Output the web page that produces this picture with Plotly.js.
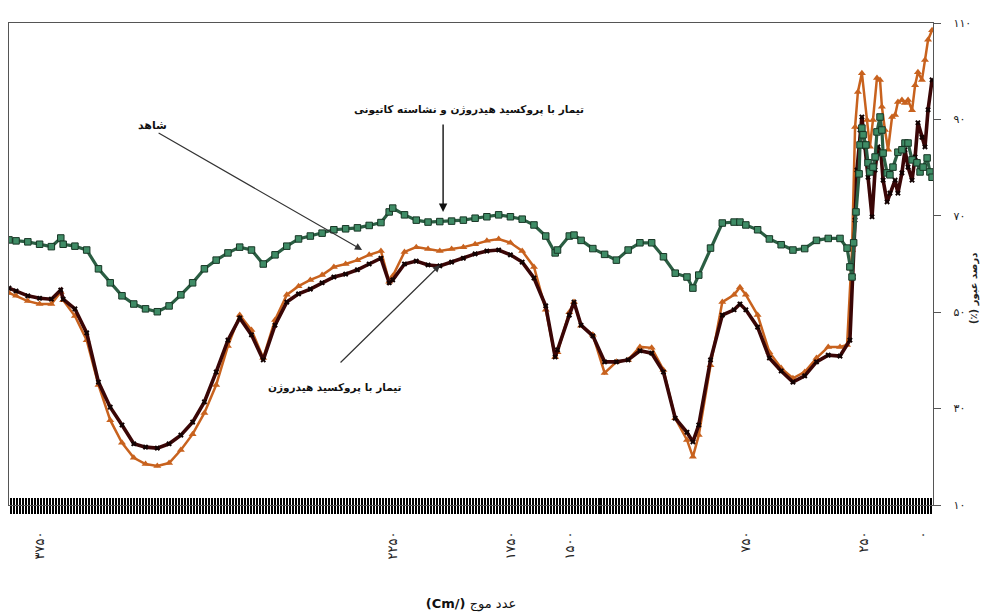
<!DOCTYPE html>
<html>
<head>
<meta charset="utf-8">
<script src="https://cdn.plot.ly/plotly-3.0.1.min.js"></script>
<style>html,body{margin:0;padding:0;background:#fff}#chart{width:992px;height:615px}</style>
</head>
<body>
<div id="chart"></div>
<script>
// Wavenumbers (cm-1) shared by the main part of the three spectra
const wnMain = [3880,3850,3800,3750,3700,3660,3650,3600,3550,3500,3450,3400,3350,3300,3250,3200,3150,3100,3050,3000,
  2950,2900,2850,2800,2750,2700,2650,2600,2550,2500,2450,2400,2350,2300,2265,2250,2200,2150,2100,2050,
  2000,1950,1900,1850,1800,1750,1700,1650,1600,1560,1550,1500,1480,1450,1400,1350,1300,1250,1200,1150,
  1100,1050,1000,975,950,900,850,800,775,750,700,650,600,550,500,450,400,350];

// Transmittance (%) — H2O2 + cationic starch (green squares)
const starchMain = [65.0,64.8,64.6,64.1,63.6,65.4,64.1,63.7,62.9,59.0,56.1,53.4,51.7,50.7,50.1,51.3,53.6,56.1,59.0,60.8,
  62.3,63.5,62.9,60.0,61.9,63.7,65.2,65.8,66.4,67.1,67.3,67.5,68.0,68.6,70.8,71.6,70.2,69.1,68.7,68.8,
  68.9,69.1,69.5,69.8,70.2,69.8,69.3,68.1,65.8,62.3,62.9,65.8,66.0,64.9,63.2,62.0,60.8,62.9,64.4,64.4,
  61.5,58.1,57.3,55.0,57.7,63.3,68.5,68.7,68.7,68.1,67.1,65.2,64.0,62.9,63.2,64.9,65.3,65.3];
const starchTailWn = [320,308,299,292,282,269,265,257,252,240,231,223,210,201,193,180,172,167,150,138,125,104,87,74,61,44,23,10,-3,-20,-32,-41];
const starchTailT = [63.3,59.4,57.3,64.4,70.8,78.7,84.7,88.2,86.8,84.7,81.0,79.1,80.1,82.2,87.4,90.5,87.8,83.0,78.9,78.5,80.1,83.2,83.7,85.1,85.1,81.6,81.0,79.1,80.1,82.0,79.1,78.0];

// Transmittance (%) — control (orange triangles)
const controlMain = [54.0,53.4,52.3,51.7,51.7,54.2,52.5,49.2,44.2,34.9,27.6,22.9,19.8,18.5,18.1,18.7,21.4,24.7,29.1,34.9,
  43.0,49.4,46.3,40.5,48.4,53.6,55.4,56.7,57.7,59.4,60.0,60.8,61.9,62.7,56.3,57.5,62.5,63.5,63.1,62.7,
  63.1,63.5,64.1,64.8,65.2,64.4,62.7,59.4,50.5,40.7,41.7,50.0,52.1,47.2,45.3,37.4,39.7,40.1,42.8,42.6,
  38.0,28.0,23.5,20.0,24.5,39.0,52.1,53.6,55.2,53.6,49.4,41.7,38.4,36.3,37.6,40.5,42.8,42.8];
const controlTailWn = [320,299,286,274,257,235,223,210,193,180,172,159,146,129,116,104,87,74,61,44,31,19,2,-11,-24,-41];
const controlTailT = [43.2,62.9,88.4,95.7,99.6,89.9,84.3,89.9,98.6,98.2,92.6,87.8,83.7,90.5,90.9,93.6,94.0,93.4,94.0,91.9,97.1,99.8,98.2,102.3,106.5,108.5];

// Transmittance (%) — H2O2 treatment (black)
const peroxMain = [55.0,54.4,53.4,52.9,52.7,54.6,52.7,50.7,45.7,35.5,30.3,26.6,22.7,22.0,21.8,22.7,24.5,27.2,31.4,37.6,
  44.2,48.8,45.3,40.1,47.3,52.1,53.8,54.8,56.1,57.3,57.9,58.8,60.0,61.2,56.1,56.7,60.0,60.6,59.8,59.6,
  60.4,61.2,62.1,62.7,62.9,61.9,60.4,57.1,51.3,40.7,42.2,49.4,52.1,47.3,45.1,39.7,39.7,40.1,42.0,41.5,
  37.6,28.0,25.1,23.1,26.6,40.1,49.4,50.5,51.7,50.5,46.9,40.5,37.8,35.5,36.8,39.7,41.1,40.9];
const peroxTailWn = [308,295,286,278,265,257,244,231,214,201,189,176,167,150,138,116,104,87,74,61,44,31,19,2,-11,-24,-41];
const peroxTailT = [44.2,57.3,69.1,79.5,87.8,90.5,84.3,78.0,69.8,79.5,84.3,83.0,77.4,72.9,74.7,77.4,74.7,78.9,83.7,80.1,77.4,82.2,89.3,86.3,84.3,92.0,98.2];

// Axis ticks
const xTickVals = [3750,2250,1750,1500,750,250,0];
const xTickText = ['۳۷۵۰','۲۲۵۰','۱۷۵۰','۱۵۰۰','۷۵۰','۲۵۰','۰'];
const yTickVals = [10,30,50,70,90,110];
const yTickText = ['۱۰','۳۰','۵۰','۷۰','۹۰','۱۱۰'];

// Labels
const labelControl = 'شاهد';
const labelStarch = 'تیمار با پروکسید هیدروژن و نشاسته کاتیونی';
const labelPerox = 'تیمار با پروکسید هیدروژن';
const xTitle = '<b>(Cm/)</b> عدد موج';
const yTitle = '(٪) درصد عبور';

const X_RANGE = [3880, -45];
const F = 'DejaVu Sans, sans-serif';

const traces = [
  {x: wnMain.concat(controlTailWn), y: controlMain.concat(controlTailT), xaxis: 'x', yaxis: 'y',
   type: 'scatter', mode: 'lines+markers', name: labelControl,
   line: {color: '#c8621e', width: 2.5},
   marker: {symbol: 'triangle-up', size: 7, color: '#c8621e', line: {width: 0}}},
  {x: wnMain.concat(peroxTailWn), y: peroxMain.concat(peroxTailT), xaxis: 'x2', yaxis: 'y',
   type: 'scatter', mode: 'lines+markers', name: labelPerox,
   line: {color: '#3a0606', width: 3.6},
   marker: {symbol: 'x', size: 5, color: '#120202', line: {width: 0}}},
  {x: wnMain.concat(starchTailWn), y: starchMain.concat(starchTailT), xaxis: 'x3', yaxis: 'y',
   type: 'scatter', mode: 'lines+markers', name: labelStarch,
   line: {color: '#2b5e43', width: 3.2},
   marker: {symbol: 'square', size: 6.5, color: '#3f8c66', line: {color: '#173524', width: 1}}}
];

const tickAxisBase = {overlaying: 'x', anchor: 'y', range: X_RANGE, tickmode: 'linear', tick0: 0, dtick: 12.74,
  showticklabels: false, showgrid: false, zeroline: false, showline: false, tickcolor: '#000', tickwidth: 2};

const layout = {
  width: 992, height: 615,
  margin: {l: 9, r: 59, t: 23, b: 110},
  paper_bgcolor: '#fff', plot_bgcolor: '#fff',
  showlegend: false,
  font: {family: F, color: '#222'},
  xaxis: {range: X_RANGE, tickmode: 'array', tickvals: xTickVals, ticktext: xTickText, tickangle: -90,
    ticks: '', ticklabelstandoff: 20, tickfont: {family: F, size: 13, color: '#222'},
    showgrid: false, zeroline: false, showline: true, mirror: true, linecolor: '#555', linewidth: 1.3,
    title: {text: xTitle, font: {family: F, size: 13, color: '#111'}, standoff: 40}},
  xaxis2: Object.assign({}, tickAxisBase, {ticks: 'outside', ticklen: 8}),
  xaxis3: Object.assign({}, tickAxisBase, {ticks: 'inside', ticklen: 7}),
  yaxis: {range: [10, 110], side: 'right', tickmode: 'array', tickvals: yTickVals, ticktext: yTickText,
    ticks: 'outside', ticklen: 7, tickcolor: '#555', ticklabelstandoff: 10,
    tickfont: {family: F, size: 11, color: '#222'},
    showgrid: false, zeroline: false, showline: true, mirror: true, linecolor: '#555', linewidth: 1.3},
  annotations: [
    {xref: 'paper', yref: 'paper', x: 0.137, y: 0.805, text: '<b>' + labelControl + '</b>', showarrow: false,
     font: {family: F, size: 11, color: '#111'}},
    {xref: 'paper', yref: 'paper', x: 0.498, y: 0.838, text: '<b>' + labelStarch + '</b>', showarrow: false,
     font: {family: F, size: 10.5, color: '#111'}},
    {xref: 'paper', yref: 'paper', x: 0.353, y: 0.226, text: '<b>' + labelPerox + '</b>', showarrow: false,
     font: {family: F, size: 10.5, color: '#111'}},
    {xref: 'x', yref: 'y', x: 2380, y: 62.9, ax: -207, ay: -119, text: ' ', showarrow: true,
     arrowhead: 2, arrowsize: 1.2, arrowwidth: 1.2, arrowcolor: '#333', standoff: 0, startstandoff: 0},
    {xref: 'x', yref: 'y', x: 2036, y: 70.8, ax: 0, ay: -96, text: ' ', showarrow: true,
     arrowhead: 2, arrowsize: 1.2, arrowwidth: 1.4, arrowcolor: '#111', standoff: 0, startstandoff: 0},
    {xref: 'x', yref: 'y', x: 2049, y: 59.8, ax: -103, ay: 101, text: ' ', showarrow: true,
     arrowhead: 2, arrowsize: 1.2, arrowwidth: 1.2, arrowcolor: '#333', standoff: 0, startstandoff: 0},
    {xref: 'paper', yref: 'paper', x: 1.053, y: 0.45, text: '<b>' + yTitle + '</b>', textangle: -90, showarrow: false,
     font: {family: F, size: 10, color: '#222'}}
  ]
};

Plotly.newPlot('chart', traces, layout, {staticPlot: true, displayModeBar: false});
</script>
</body>
</html>
